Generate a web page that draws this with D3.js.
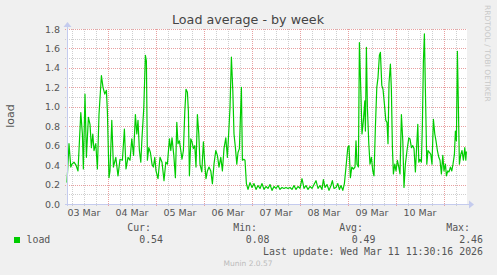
<!DOCTYPE html>
<html>
<head>
<meta charset="utf-8">
<script src="https://cdn.jsdelivr.net/npm/d3@7"></script>
<style>
body{margin:0;background:#f0f0f0;}
svg{display:block;}
</style>
</head>
<body>
<div id="chart"></div>
<script>
const chartTitle = "Load average - by week";
const yAxisLabel = "load";
const startTime = new Date(2026, 2, 3, 3, 30);
const endTime = new Date(2026, 2, 11, 11, 30);
const yTicks = [0, 0.2, 0.4, 0.6, 0.8, 1.0, 1.2, 1.4, 1.6, 1.8];
const seriesName = "load";
const legendHeaders = ["Cur:", "Min:", "Avg:", "Max:"];
const legendValues = ["0.54", "0.08", "0.49", "2.46"];
const lastUpdate = "Last update: Wed Mar 11 11:30:16 2026";
const watermark = "RRDTOOL / TOBI OETIKER";
const footer = "Munin 2.0.57";

// [hours after start, load]
const loadSamples = [
  [0,0.22],[1,0.62],[1.9,0.38],[2.5,0.41],[3.5,0.43],[4.5,0.40],[5.5,0.34],[6.9,0.94],[7.7,0.72],[8.2,0.36],
  [9,1.13],[9.7,0.48],[10.7,0.89],[11.5,0.82],[12.2,0.58],[12.9,0.72],[13.5,0.55],[14.4,0.62],[15.2,0.36],[16,0.92],
  [17.2,1.32],[18,1.2],[18.9,1.13],[19.7,1.17],[20.2,0.95],[21,0.27],[21.5,0.34],[22.4,0.86],[23.2,0.38],[24.4,0.48],
  [25.5,0.29],[26.5,0.46],[27.7,0.45],[28.7,0.77],[29.5,0.36],[30.5,0.48],[31.5,0.45],[32.4,0.67],[33.3,0.5],[34.2,0.92],
  [34.9,0.72],[35.5,0.86],[36.2,0.55],[36.9,0.43],[37.5,0.68],[38.4,0.99],[39.2,1.53],[39.7,1.47],[40.2,0.45],[40.9,0.58],
  [41.7,0.53],[42.5,0.41],[43.2,0.38],[43.9,0.48],[44.5,0.34],[45.5,0.26],[46.5,0.48],[47.5,0.43],[48.5,0.24],[49.4,0.43],
  [50.2,0.41],[51.2,0.67],[51.9,0.55],[52.5,0.68],[53.4,0.5],[54.2,0.27],[54.9,0.84],[55.5,0.62],[56.2,0.65],[56.9,0.55],
  [57.5,0.46],[58.2,0.55],[58.9,0.95],[59.5,1.18],[60.2,1.15],[60.7,0.95],[61.2,0.29],[61.9,0.67],[62.5,0.64],[63.2,0.57],
  [63.9,0.6],[64.5,0.38],[65.2,0.92],[65.9,0.72],[66.5,0.41],[67.4,0.33],[68.2,0.64],[68.9,0.41],[69.5,0.26],[70.2,0.34],
  [71,0.38],[71.9,0.34],[72.7,0.21],[73.5,0.41],[74.4,0.55],[75.2,0.5],[76,0.38],[76.9,0.48],[77.7,0.34],[78.5,0.57],
  [79.4,0.68],[80.2,0.48],[80.9,0.75],[81.5,0.99],[82.2,1.51],[82.9,1.17],[83.5,0.72],[84.2,0.58],[84.9,0.41],[85.5,0.53],
  [86.2,0.57],[86.7,0.89],[87.2,1.2],[87.7,0.45],[88.4,0.46],[89,0.45],[89.7,0.21],[90.5,0.15],[91.5,0.22],[92.5,0.17],
  [93.5,0.21],[94.5,0.15],[95.5,0.19],[96.5,0.16],[97.5,0.21],[98.5,0.15],[99.5,0.18],[100.5,0.16],[101.5,0.2],[102.5,0.14],
  [103.5,0.18],[104.5,0.16],[105.5,0.19],[106.5,0.15],[107.5,0.17],[108.5,0.16],[109.5,0.17],[110.5,0.16],[111.5,0.17],[112.5,0.15],
  [113.5,0.19],[114.5,0.15],[115.5,0.18],[116.5,0.16],[117.5,0.26],[118.5,0.16],[119.5,0.19],[120.5,0.15],[121.5,0.18],[122.5,0.16],
  [123.5,0.2],[124.5,0.24],[125.5,0.16],[126.5,0.19],[127.5,0.15],[128.2,0.25],[129,0.17],[130,0.2],[131,0.14],[132,0.19],
  [132.7,0.24],[133.5,0.16],[134.5,0.17],[135.4,0.21],[136.2,0.15],[137,0.19],[137.9,0.14],[138.7,0.21],[139.5,0.38],[140.4,0.58],
  [141,0.6],[141.7,0.27],[142.4,0.38],[143.2,0.36],[144,0.38],[144.5,0.65],[145,0.41],[145.7,0.38],[146.2,1.66],[146.9,1.17],
  [147.5,0.72],[148.2,0.86],[148.9,1.06],[149.2,0.75],[149.7,1.61],[150.2,0.99],[150.9,0.62],[151.5,0.41],[152.2,0.48],[152.9,0.34],
  [153.5,0.29],[154.2,0.79],[154.9,1.2],[155.5,1.3],[156.2,1.53],[156.7,1.56],[157.4,1.22],[158,1.18],[158.7,1.03],[159.4,0.86],
  [160,0.84],[160.5,0.62],[161,1.24],[161.7,1.44],[162.2,1.17],[162.7,0.58],[163.2,0.31],[163.9,0.41],[164.5,0.34],[165.2,0.45],
  [165.9,0.38],[166.5,0.31],[167.2,0.92],[167.9,0.65],[168.5,0.17],[169.2,0.41],[170,0.55],[170.9,0.68],[171.5,0.67],[172.2,0.58],
  [172.9,0.6],[173.5,0.57],[174.2,0.33],[174.9,0.62],[175.4,0.82],[175.9,0.43],[176.5,0.46],[177.2,0.43],[177.7,0.82],[178.2,1.47],
  [178.7,1.75],[179.2,1.17],[179.9,0.41],[180.5,0.55],[181.2,0.53],[181.9,0.51],[182.5,0.41],[183.2,0.87],[183.9,0.72],[184.5,0.65],
  [185.2,0.55],[185.9,0.48],[186.5,0.45],[187.2,0.31],[187.9,0.5],[188.5,0.34],[189.2,0.41],[189.7,0.29],[190.4,0.34],[191,0.33],
  [191.7,0.38],[192.4,0.34],[193,0.41],[193.7,0.51],[194.2,0.75],[194.7,0.65],[195.2,1.57],[195.7,0.99],[196.2,0.41],[196.9,0.51],
  [197.5,0.55],[198.2,0.45],[198.9,0.58],[199.4,0.45],[199.7,0.54]
];

const width = 497, height = 275;
const plot = {left: 67, right: 467, top: 29, bottom: 204};
const lineColor = "#00cc00";

const svg = d3.select("#chart").append("svg")
    .attr("width", width)
    .attr("height", height)
    .style("font-family", "'DejaVu Sans', sans-serif");

svg.append("rect").attr("width", width).attr("height", height).attr("fill", "#f0f0f0");
svg.append("rect")
    .attr("x", plot.left).attr("y", plot.top)
    .attr("width", plot.right - plot.left).attr("height", plot.bottom - plot.top)
    .attr("fill", "#ffffff");

const x = d3.scaleTime().domain([startTime, endTime]).range([plot.left, plot.right]);
const y = d3.scaleLinear().domain([0, 1.8]).range([plot.bottom, plot.top]);

// minor grid
const minorX = d3.timeHour.every(6).range(startTime, endTime).filter(d=>d.getHours() !== 0);
svg.append("g").selectAll("line")
    .data(minorX)
    .join("line")
    .attr("x1", d=>Math.round(x(d)) + 0.5).attr("x2", d=>Math.round(x(d)) + 0.5)
    .attr("y1", plot.top).attr("y2", plot.bottom + 2)
    .attr("stroke", "#cfcfcf").attr("stroke-dasharray", "1,1");

const minorY = d3.range(1, 18, 2).map(i=>i / 10);
svg.append("g").selectAll("line")
    .data(minorY)
    .join("line")
    .attr("x1", plot.left - 2).attr("x2", plot.right)
    .attr("y1", d=>Math.round(y(d)) + 0.5).attr("y2", d=>Math.round(y(d)) + 0.5)
    .attr("stroke", "#cfcfcf").attr("stroke-dasharray", "1,1");

// major grid
const majorX = d3.timeDay.range(startTime, endTime);
svg.append("g").selectAll("line")
    .data(majorX)
    .join("line")
    .attr("x1", d=>Math.round(x(d)) + 0.5).attr("x2", d=>Math.round(x(d)) + 0.5)
    .attr("y1", plot.top).attr("y2", plot.bottom + 2)
    .attr("stroke", "#e8a0a0").attr("stroke-dasharray", "1,1");

svg.append("g").selectAll("line")
    .data(yTicks.filter(d=>d > 0))
    .join("line")
    .attr("x1", plot.left - 2).attr("x2", plot.right)
    .attr("y1", d=>Math.round(y(d)) + 0.5).attr("y2", d=>Math.round(y(d)) + 0.5)
    .attr("stroke", "#e8a0a0").attr("stroke-dasharray", "1,1");

// tick labels
svg.append("g").selectAll("text")
    .data(yTicks)
    .join("text")
    .attr("x", 60)
    .attr("y", d=>y(d) + 3.5)
    .attr("text-anchor", "end")
    .attr("font-size", "9.5px")
    .attr("fill", "#555")
    .text(d=>d.toFixed(1));

const dayLabels = majorX.map(d=>d3.timeHour.offset(d, -12)).concat([d3.timeHour.offset(majorX[majorX.length - 1], 12)])
    .filter(d=>d >= startTime && d <= endTime);
svg.append("g").selectAll("text")
    .data(dayLabels)
    .join("text")
    .attr("x", d=>x(d))
    .attr("y", 216)
    .attr("text-anchor", "middle")
    .attr("font-size", "9.5px")
    .attr("fill", "#555")
    .text(d=>d3.timeFormat("%d %b")(d));

// data line
const line = d3.line()
    .x(d=>x(d3.timeMinute.offset(startTime, d[0] * 60)))
    .y(d=>y(d[1]));
svg.append("path")
    .datum(loadSamples)
    .attr("d", line)
    .attr("fill", "none")
    .attr("stroke", lineColor)
    .attr("stroke-width", 1.2)
    .attr("stroke-linejoin", "round");

// axes with arrows
const axisColor = "#c4cbee";
svg.append("line")
    .attr("x1", plot.left - 2).attr("x2", plot.right + 2)
    .attr("y1", plot.bottom + 0.5).attr("y2", plot.bottom + 0.5)
    .attr("stroke", axisColor);
svg.append("path")
    .attr("d", `M${plot.right + 2},${plot.bottom - 3.5}L${plot.right + 7},${plot.bottom + 0.5}L${plot.right + 2},${plot.bottom + 4.5}Z`)
    .attr("fill", axisColor);
svg.append("line")
    .attr("x1", plot.left + 0.5).attr("x2", plot.left + 0.5)
    .attr("y1", plot.bottom + 2).attr("y2", plot.top - 2)
    .attr("stroke", axisColor);
svg.append("path")
    .attr("d", `M${plot.left - 3.5},${plot.top - 2}L${plot.left + 0.5},${plot.top - 7}L${plot.left + 4.5},${plot.top - 2}Z`)
    .attr("fill", axisColor);

// title and labels
svg.append("text")
    .attr("x", 248).attr("y", 24)
    .attr("text-anchor", "middle")
    .attr("font-size", "12.7px")
    .attr("fill", "#444")
    .text(chartTitle);

svg.append("text")
    .attr("transform", "translate(14,116) rotate(-90)")
    .attr("text-anchor", "middle")
    .attr("font-size", "11px")
    .attr("fill", "#555")
    .text(yAxisLabel);

svg.append("text")
    .attr("transform", "translate(484.5,5) rotate(90)")
    .attr("font-size", "7.5px")
    .attr("fill", "#c8c8c8")
    .text(watermark);

// legend
const mono = "'DejaVu Sans Mono', monospace";
const headerEnds = [151, 257, 363, 470];
const valueEnds = [163, 269.5, 375.5, 483];
svg.append("g").selectAll("text")
    .data(legendHeaders)
    .join("text")
    .attr("x", (d,i)=>headerEnds[i]).attr("y", 231)
    .attr("text-anchor", "end")
    .attr("font-family", mono).attr("font-size", "9.9px").attr("fill", "#555")
    .text(d=>d);
svg.append("g").selectAll("text")
    .data(legendValues)
    .join("text")
    .attr("x", (d,i)=>valueEnds[i]).attr("y", 243)
    .attr("text-anchor", "end")
    .attr("font-family", mono).attr("font-size", "9.9px").attr("fill", "#555")
    .text(d=>d);
svg.append("rect")
    .attr("x", 14).attr("y", 237).attr("width", 6).attr("height", 6)
    .attr("fill", lineColor);
svg.append("text")
    .attr("x", 26.5).attr("y", 243)
    .attr("font-family", mono).attr("font-size", "9.9px").attr("fill", "#555")
    .text(seriesName);
svg.append("text")
    .attr("x", 483).attr("y", 255)
    .attr("text-anchor", "end")
    .attr("font-family", mono).attr("font-size", "9.9px").attr("fill", "#555")
    .text(lastUpdate);
svg.append("text")
    .attr("x", 248).attr("y", 266)
    .attr("text-anchor", "middle")
    .attr("font-size", "7.5px")
    .attr("fill", "#bbb")
    .text(footer);
</script>
</body>
</html>
